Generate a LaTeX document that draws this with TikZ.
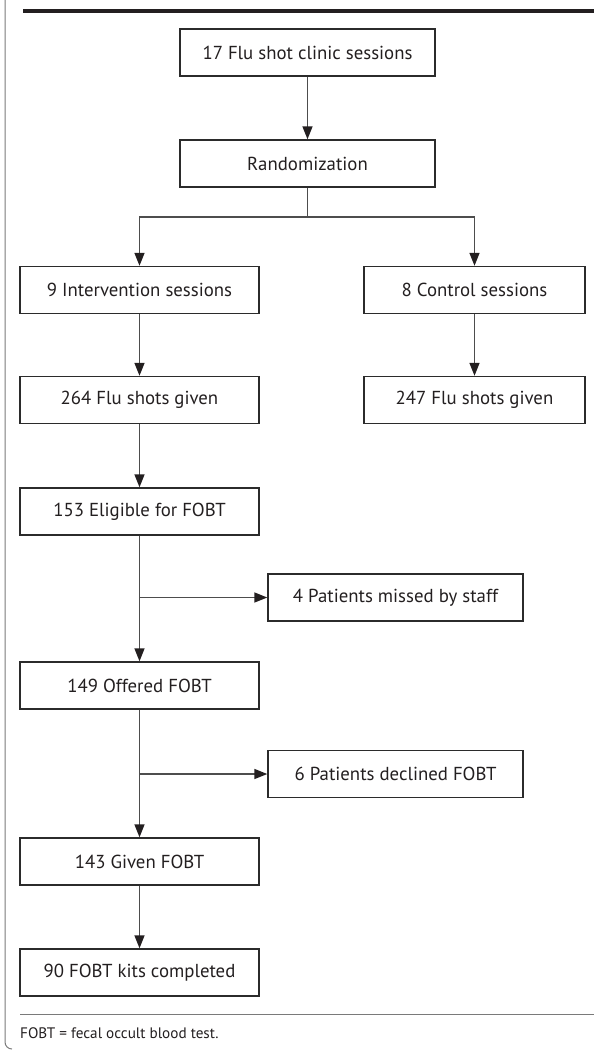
\documentclass[tikz,border=0pt]{standalone}
\usepackage{fontspec}
\setmainfont{PT Sans}
\usetikzlibrary{arrows.meta}
\definecolor{boxline}{HTML}{2B2B2B}
\definecolor{connline}{HTML}{4D4D4D}
\definecolor{rulecol}{HTML}{231F20}
\definecolor{framecol}{HTML}{7A7A7A}
\definecolor{textcol}{HTML}{231F20}
\tikzset{
  stepbox/.style={draw=boxline, line width=1.4pt, rectangle, minimum height=47pt, inner sep=0pt,
    font=\fontsize{18.8}{22}\selectfont, text=textcol},
  widebox/.style={stepbox, minimum width=255pt},
  leftbox/.style={stepbox, minimum width=239pt},
  rightbox/.style={stepbox, minimum width=221pt},
  conn/.style={draw=connline, line width=1.5pt, -{Triangle[length=13pt,width=10pt,color=rulecol]}},
  plainconn/.style={draw=connline, line width=1.5pt},
}
\begin{document}
\begin{tikzpicture}[x=1pt,y=-1pt]
\useasboundingbox (0,0) rectangle (594,1050);
% frame and rules
\draw[framecol, line width=1pt] (5,0) -- (5,1042) to[out=-90,in=180] (12,1049);
\draw[rulecol, line width=4pt] (23,11) -- (594,11);
\draw[framecol, line width=1pt] (20,1014) -- (594,1014);
\node[anchor=west, text=textcol, font=\fontsize{15.2}{18}\selectfont, inner sep=0pt] (cap) at (20,1033) {FOBT = fecal occult blood test.};
% boxes
\node[widebox] (clinic) at (307.5,52.5) {17 Flu shot clinic sessions};
\node[widebox] (rand) at (307.5,163.5) {Randomization};
\node[leftbox] (interv) at (139.5,290) {9 Intervention sessions};
\node[rightbox] (control) at (474.5,290) {8 Control sessions};
\node[leftbox] (s264) at (139.5,400) {264 Flu shots given};
\node[rightbox] (s247) at (474.5,400) {247 Flu shots given};
\node[leftbox] (elig) at (139.5,511.5) {153 Eligible for FOBT};
\node[widebox] (missed) at (395.5,597.5) {4 Patients missed by staff};
\node[leftbox] (offered) at (139.5,685.5) {149 Offered FOBT};
\node[widebox] (declined) at (395.5,774) {6 Patients declined FOBT};
\node[leftbox] (given) at (139.5,861.5) {143 Given FOBT};
\node[leftbox] (kits) at (139.5,972.5) {90 FOBT kits completed};
% connectors
\draw[conn] (clinic) -- (rand);
\coordinate (split) at (307.5,217);
\draw[plainconn] (rand.south) -- (split);
\draw[conn] (split) -| (interv.north);
\draw[conn] (split) -| (control.north);
\draw[conn] (interv) -- (s264);
\draw[conn] (control) -- (s247);
\draw[conn] (s264) -- (elig);
\draw[conn] (elig) -- (offered);
\coordinate (b1) at (elig.south |- missed.west);
\draw[conn] (b1) -- (missed.west);
\draw[conn] (offered) -- (given);
\coordinate (b2) at (offered.south |- declined.west);
\draw[conn] (b2) -- (declined.west);
\draw[conn] (given) -- (kits);
\end{tikzpicture}
\end{document}
